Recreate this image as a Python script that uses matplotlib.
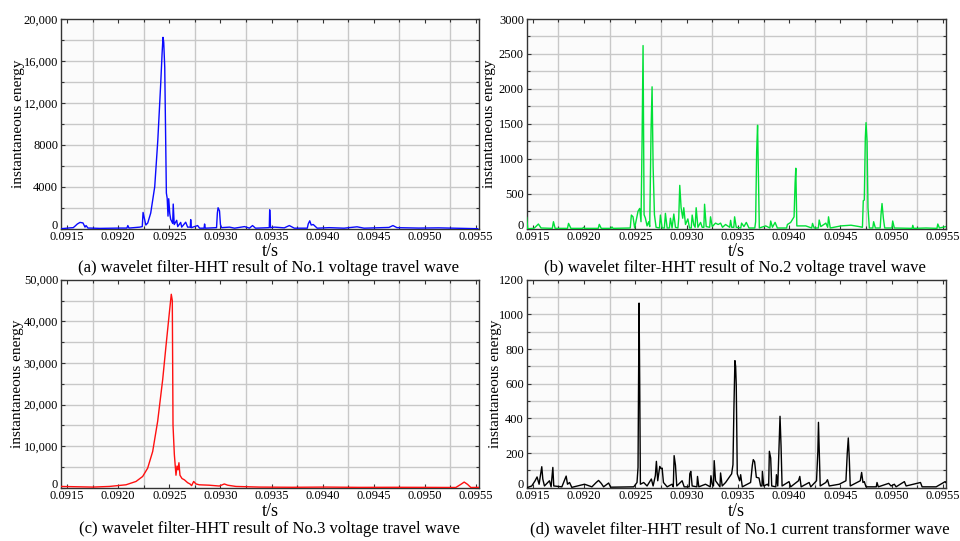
import numpy as np
import matplotlib
matplotlib.use("Agg")
import matplotlib.pyplot as plt
from matplotlib.ticker import MultipleLocator, FixedLocator, FuncFormatter

plt.rcParams["font.family"] = ["Liberation Serif", "DejaVu Serif"]

# ── 1. Data : (t in s, instantaneous energy) ──
# (a) No.1 voltage travel wave
pts_a = [(0.091441, 0), (0.091529, 80), (0.091560, 100), (0.091578, 250), (0.091600, 450),
         (0.091626, 600), (0.091655, 550), (0.091675, 150), (0.091685, 300), (0.091704, 60),
         (0.091724, 60), (0.091821, 30), (0.092016, 60), (0.092085, 60), (0.092094, 300),
         (0.092105, 60), (0.092211, 150), (0.092235, 200), (0.092243, 1550), (0.092270, 350),
         (0.092289, 550), (0.092318, 1500), (0.092357, 4000), (0.092387, 8400), (0.092416, 13900),
         (0.092429, 16700), (0.092438, 18250), (0.092445, 17800), (0.092455, 15400), (0.092471, 3400),
         (0.092479, 2900), (0.092487, 1200), (0.092494, 2860), (0.092504, 1460), (0.092513, 900),
         (0.092533, 500), (0.092538, 2350), (0.092548, 400), (0.092572, 800), (0.092582, 200),
         (0.092611, 600), (0.092621, 150), (0.092660, 620), (0.092679, 150), (0.092705, 150),
         (0.092709, 870), (0.092715, 100), (0.092777, 300), (0.092796, 50), (0.092840, 50),
         (0.092845, 450), (0.092852, 50), (0.092962, 100), (0.092970, 1500), (0.092977, 2000),
         (0.092991, 1700), (0.093000, 400), (0.093011, 100), (0.093089, 150), (0.093138, 50),
         (0.093236, 200), (0.093284, 50), (0.093314, 300), (0.093343, 50), (0.093478, 100),
         (0.093482, 1800), (0.093490, 100), (0.093528, 150), (0.093625, 80), (0.093674, 300),
         (0.093723, 50), (0.093850, 50), (0.093859, 450), (0.093874, 750), (0.093888, 350),
         (0.093908, 400), (0.093947, 50), (0.094064, 100), (0.094210, 50), (0.094337, 180),
         (0.094405, 50), (0.094649, 120), (0.094688, 300), (0.094727, 100), (0.094941, 60),
         (0.095136, 80), (0.095331, 40), (0.095517, 0)]

# (b) No.2 voltage travel wave
pts_b = [(0.091440, 160), (0.091450, 0), (0.091510, 5), (0.091522, 20), (0.091554, 67),
         (0.091580, 10), (0.091690, 5), (0.091701, 100), (0.091717, 5), (0.091838, 5),
         (0.091848, 76), (0.091871, 5), (0.091985, 5), (0.091995, 20), (0.092005, 5),
         (0.092138, 5), (0.092148, 62), (0.092167, 5), (0.092262, 5), (0.092272, 25),
         (0.092282, 5), (0.092450, 10), (0.092461, 195), (0.092477, 170), (0.092493, 10),
         (0.092526, 250), (0.092542, 290), (0.092555, 100), (0.092565, 1212), (0.092575, 2620),
         (0.092585, 200), (0.092598, 150), (0.092614, 40), (0.092630, 100), (0.092640, 30),
         (0.092653, 1410), (0.092663, 2030), (0.092673, 890), (0.092686, 200), (0.092702, 20),
         (0.092735, 10), (0.092744, 195), (0.092761, 10), (0.092783, 10), (0.092793, 220),
         (0.092810, 10), (0.092832, 10), (0.092842, 150), (0.092858, 10), (0.092875, 210),
         (0.092891, 20), (0.092915, 10), (0.092923, 150), (0.092933, 620), (0.092946, 300),
         (0.092962, 150), (0.092972, 300), (0.092989, 60), (0.093012, 140), (0.093028, 10),
         (0.093045, 10), (0.093054, 195), (0.093071, 50), (0.093083, 20), (0.093093, 300),
         (0.093110, 20), (0.093136, 90), (0.093152, 20), (0.093168, 20), (0.093175, 350),
         (0.093191, 30), (0.093225, 20), (0.093233, 170), (0.093250, 30), (0.093282, 80),
         (0.093308, 60), (0.093331, 80), (0.093350, 20), (0.093380, 60), (0.093420, 20),
         (0.093429, 120), (0.093440, 20), (0.093460, 20), (0.093468, 170), (0.093484, 20),
         (0.093528, 10), (0.093536, 80), (0.093559, 30), (0.093582, 90), (0.093608, 10),
         (0.093665, 10), (0.093673, 100), (0.093683, 1100), (0.093692, 1480), (0.093699, 900),
         (0.093709, 10), (0.093771, 40), (0.093812, 10), (0.093820, 110), (0.093837, 20),
         (0.093863, 90), (0.093885, 10), (0.093975, 10), (0.093983, 60), (0.094015, 90),
         (0.094032, 130), (0.094048, 170), (0.094058, 650), (0.094065, 865), (0.094075, 40),
         (0.094162, 40), (0.094220, 10), (0.094228, 76), (0.094244, 10), (0.094285, 10),
         (0.094293, 124), (0.094309, 30), (0.094358, 80), (0.094376, 20), (0.094384, 170),
         (0.094401, 10), (0.094505, 40), (0.094603, 50), (0.094684, 30), (0.094715, 20),
         (0.094723, 400), (0.094733, 410), (0.094743, 1300), (0.094750, 1517), (0.094760, 1250),
         (0.094769, 300), (0.094782, 10), (0.094816, 10), (0.094824, 100), (0.094841, 10),
         (0.094888, 10), (0.094896, 200), (0.094906, 360), (0.094919, 150), (0.094932, 10),
         (0.095002, 10), (0.095010, 110), (0.095026, 10), (0.095200, 5), (0.095206, 48),
         (0.095215, 5), (0.095336, 10), (0.095442, 5), (0.095450, 67), (0.095466, 10),
         (0.095528, 30)]

# (c) No.3 voltage travel wave
pts_c = [(0.091440, 300), (0.091750, 150), (0.091913, 300), (0.092076, 700), (0.092174, 1500),
         (0.092239, 2700), (0.092288, 4700), (0.092337, 8700), (0.092386, 16000), (0.092435, 26000),
         (0.092467, 34000), (0.092500, 42000), (0.092519, 46500), (0.092529, 45000), (0.092536, 15000),
         (0.092549, 8000), (0.092565, 3000), (0.092575, 5200), (0.092585, 4300), (0.092594, 6000),
         (0.092604, 3000), (0.092624, 2200), (0.092647, 1900), (0.092679, 1200), (0.092702, 900),
         (0.092718, 500), (0.092738, 1500), (0.092761, 900), (0.092793, 700), (0.092891, 600),
         (0.092989, 400), (0.093038, 900), (0.093071, 600), (0.093152, 300), (0.093380, 150),
         (0.093706, 100), (0.094032, 150), (0.094358, 80), (0.094684, 100), (0.095010, 80),
         (0.095303, 50), (0.095352, 800), (0.095385, 1350), (0.095418, 800), (0.095450, 50),
         (0.095528, 80)]

# (d) No.1 current transformer wave
pts_d = [(0.091440, 0), (0.091489, 10), (0.091522, 40), (0.091541, 62), (0.091561, 20),
         (0.091587, 121), (0.091597, 50), (0.091613, 10), (0.091662, 40), (0.091678, 5),
         (0.091695, 117), (0.091704, 10), (0.091783, 5), (0.091825, 67), (0.091838, 20),
         (0.091858, 30), (0.091880, 2), (0.092004, 20), (0.092076, 5), (0.092118, 30),
         (0.092141, 42), (0.092167, 25), (0.092190, 5), (0.092239, 27), (0.092259, 3),
         (0.092484, 5), (0.092516, 30), (0.092526, 117), (0.092536, 1065), (0.092542, 633),
         (0.092549, 20), (0.092581, 30), (0.092614, 10), (0.092656, 50), (0.092673, 10),
         (0.092695, 70), (0.092705, 152), (0.092718, 40), (0.092738, 123), (0.092751, 110),
         (0.092761, 113), (0.092774, 30), (0.092810, 5), (0.092858, 20), (0.092870, 5),
         (0.092878, 185), (0.092891, 130), (0.092904, 10), (0.092956, 40), (0.092976, 5),
         (0.093025, 5), (0.093031, 80), (0.093041, 94), (0.093054, 10), (0.093100, 5),
         (0.093106, 65), (0.093119, 5), (0.093184, 20), (0.093230, 5), (0.093237, 69),
         (0.093250, 20), (0.093262, 10), (0.093269, 156), (0.093282, 40), (0.093325, 5),
         (0.093331, 85), (0.093347, 10), (0.093380, 30), (0.093439, 80), (0.093452, 133),
         (0.093461, 450), (0.093471, 733), (0.093478, 700), (0.093484, 594), (0.093494, 80),
         (0.093517, 40), (0.093527, 75), (0.093543, 5), (0.093624, 30), (0.093641, 130),
         (0.093650, 162), (0.093663, 150), (0.093680, 60), (0.093706, 56), (0.093722, 10),
         (0.093735, 10), (0.093739, 94), (0.093752, 10), (0.093788, 20), (0.093800, 10),
         (0.093807, 210), (0.093820, 171), (0.093830, 10), (0.093870, 5), (0.093876, 75),
         (0.093889, 10), (0.093902, 250), (0.093911, 412), (0.093921, 240), (0.093931, 10),
         (0.093999, 35), (0.094015, 5), (0.094091, 40), (0.094104, 65), (0.094117, 5),
         (0.094195, 30), (0.094211, 5), (0.094267, 40), (0.094280, 210), (0.094286, 377),
         (0.094293, 229), (0.094303, 10), (0.094358, 30), (0.094374, 46), (0.094391, 10),
         (0.094489, 20), (0.094554, 40), (0.094567, 200), (0.094577, 287), (0.094587, 162),
         (0.094596, 10), (0.094694, 40), (0.094707, 88), (0.094720, 30), (0.094733, 35),
         (0.094750, 5), (0.094850, 5), (0.094857, 30), (0.094870, 5), (0.094971, 25),
         (0.094994, 10), (0.095026, 20), (0.095043, 5), (0.095124, 35), (0.095141, 10),
         (0.095281, 30), (0.095297, 5), (0.095434, 5), (0.095522, 35), (0.095528, 30)]

x_ticks = [0.0915, 0.0920, 0.0925, 0.0930, 0.0935, 0.0940, 0.0945, 0.0950, 0.0955]
x_tick_labels = ["0.0915", "0.0920", "0.0925", "0.0930", "0.0935",
                 "0.0940", "0.0945", "0.0950", "0.0955"]
x_grid = [0.09175, 0.09225, 0.09275, 0.09325, 0.09375, 0.09425, 0.09475, 0.09525]

captions = ["(a) wavelet filter-HHT result of No.1 voltage travel wave",
            "(b) wavelet filter-HHT result of No.2 voltage travel wave",
            "(c) wavelet filter-HHT result of No.3 voltage travel wave",
            "(d) wavelet filter-HHT result of No.1 current transformer wave"]

# ── 2. Figure layout (pixel boxes) ───────────────────────────
W, H = 960, 541
fig = plt.figure(figsize=(W / 100, H / 100), dpi=100)

def px_box(left, top, right, bottom):
    return [left / W, 1 - bottom / H, (right - left) / W, (bottom - top) / H]

panels = [
    dict(box=(61, 19, 479, 228.7), pts=pts_a, color="#0a0aff", ymax=20000, step=4000, comma=True),
    dict(box=(526.7, 19, 946, 228.7), pts=pts_b, color="#00e036", ymax=3000, step=500, comma=False),
    dict(box=(61, 279.7, 479, 487.7), pts=pts_c, color="#ff1010", ymax=50000, step=10000, comma=True),
    dict(box=(526.7, 279.7, 946, 487.7), pts=pts_d, color="#000000", ymax=1200, step=200, comma=False),
]
ylabel_x = [19, 490, 17.5, 495]
tlabel_y = [252, 252, 512, 512]
caption_y = [268.5, 268.5, 529, 529]
caption_x = [269, 735, 269, 740]

def comma_fmt(v, pos):
    v = int(round(v))
    return f"{v:,}" if v >= 10000 else f"{v}"

# ── 3. Draw panels ───────────────────────────────────────────
axes = []
for i, p in enumerate(panels):
    t, e = zip(*p["pts"])
    ax = fig.add_axes(px_box(*p["box"]))
    axes.append(ax)
    ax.set_facecolor("#fbfbfb")
    ax.plot(t, e, color=p["color"], lw=1.0, zorder=3)
    ax.set_xlim(0.09144, 0.09553)
    ax.set_ylim(0, p["ymax"])

    ax.xaxis.set_major_locator(FixedLocator(x_ticks))
    ax.set_xticklabels(x_tick_labels)
    ax.xaxis.set_minor_locator(FixedLocator(x_grid))
    ax.yaxis.set_major_locator(FixedLocator(np.arange(0, p["ymax"] + 1, p["step"])))
    ax.yaxis.set_minor_locator(MultipleLocator(p["step"] / 2))
    if p["comma"]:
        ax.yaxis.set_major_formatter(FuncFormatter(comma_fmt))

    # grid: vertical lines only between labelled ticks, horizontal at every half step
    for gx in x_grid:
        ax.axvline(gx, color="#c8c8c8", lw=1.0, zorder=1)
    for gy in np.arange(p["step"] / 2, p["ymax"], p["step"] / 2):
        ax.axhline(gy, color="#c8c8c8", lw=1.0, zorder=1)

    ax.tick_params(which="both", direction="in", top=True, right=True,
                   length=3, width=0.8, color="#333333", labelsize=9, pad=2)
    ax.tick_params(which="minor", length=2.5)
    for s in ax.spines.values():
        s.set_color("#333333")
        s.set_linewidth(1.0)

    fig.text(ylabel_x[i] / W, 1 - (p["box"][1] + p["box"][3]) / 2 / H,
             "instantaneous energy", rotation=90, ha="center", va="center", fontsize=11)
    fig.text((p["box"][0] + p["box"][2]) / 2 / W, 1 - tlabel_y[i] / H, "t/s",
             ha="center", va="center", fontsize=13)
    fig.text(caption_x[i] / W, 1 - caption_y[i] / H, captions[i],
             ha="center", va="center", fontsize=12)

# the "0" sits just above the x axis in the original
fig.canvas.draw()
for ax in axes:
    for tick in ax.yaxis.get_major_ticks():
        if tick.get_loc() == 0:
            tick.label1.set_verticalalignment("baseline")

fig.savefig("out.png", dpi=100)
